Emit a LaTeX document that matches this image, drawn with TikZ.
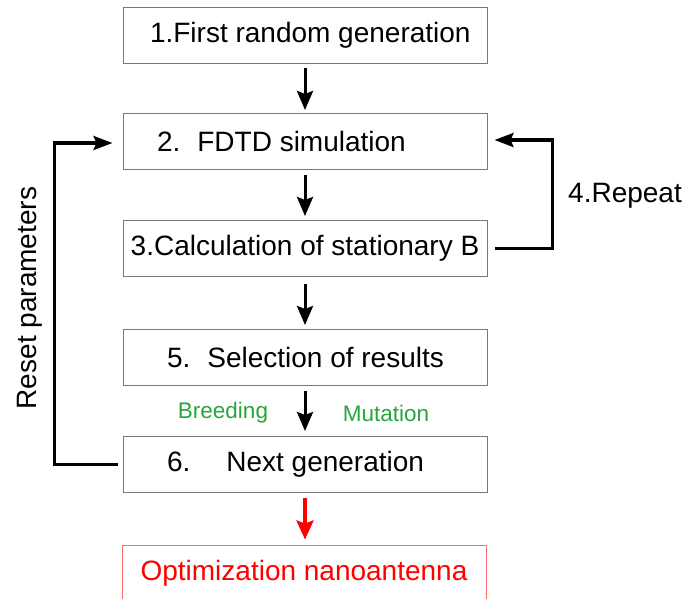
\documentclass[tikz,border=0pt]{standalone}
\usepackage{fontspec}
\setmainfont{Liberation Sans}
\usetikzlibrary{arrows.meta}
\definecolor{bxgray}{RGB}{120,120,120}
\definecolor{lbgreen}{RGB}{40,165,60}
\definecolor{optred}{RGB}{255,0,0}
\definecolor{optredline}{RGB}{250,110,110}
\begin{document}
\begin{tikzpicture}[x=1pt,y=-1pt,
  stepbox/.style={draw=bxgray,line width=1pt,rectangle,minimum width=364pt,minimum height=56pt,inner sep=0pt,font=\fontsize{28}{32}\selectfont},
  optbox/.style={stepbox,draw=optredline,text=optred},
  flow/.style={line width=3pt,-{Stealth[length=19pt,width=16pt,inset=3pt]}},
  redflow/.style={line width=3.4pt,draw=optred,-{Stealth[length=19pt,width=17pt,inset=3pt,fill=optred]}},
  loopline/.style={line width=3.2pt,-{Stealth[length=19pt,width=14pt,inset=3pt]}},
  lbl/.style={font=\fontsize{28}{32}\selectfont,inner sep=0pt},
  glbl/.style={font=\fontsize{22.5}{26}\selectfont,text=lbgreen,inner sep=0pt}]
\clip (0,0) rectangle (686,598);
\fill[white] (0,0) rectangle (686,598);

\node[stepbox] (b1) at (305,35) {\makebox[340pt][l]{\hspace*{15pt}1.First random generation}};
\node[stepbox] (b2) at (305,141.5) {\makebox[340pt][l]{\hspace*{22pt}2.\hspace{17pt}FDTD simulation}};
\node[stepbox] (b3) at (305,248.5) {3.Calculation of stationary B};
\node[stepbox] (b5) at (305,357.5) {\makebox[340pt][l]{\hspace*{32pt}5.\hspace{17pt}Selection of results}};
\node[stepbox] (b6) at (305,464.5) {\makebox[340pt][l]{\hspace*{32pt}6.\hspace{36pt}Next generation}};
\node[optbox] (b7) at (304,573) {Optimization nanoantenna};

\draw[flow] ([yshift=-4pt]b1.south) -- ([yshift=3pt]b2.north);
\draw[flow] ([yshift=-5pt]b2.south) -- ([yshift=4pt]b3.north);
\draw[flow] ([yshift=-7pt]b3.south) -- ([yshift=4pt]b5.north);
\draw[flow] ([yshift=-5pt]b5.south) -- ([yshift=5pt]b6.north);
\draw[redflow] ([yshift=-5pt]b6.south) -- ([yshift=5pt,xshift=1pt]b7.north);

\draw[loopline] ([xshift=-5pt]b6.west) -| ([xshift=-68pt,yshift=-1.5pt]b2.west) -- ([xshift=-10pt,yshift=-1.5pt]b2.west);
\draw[loopline] ([xshift=7pt]b3.east) -| ([xshift=65pt,yshift=1.5pt]b2.east) -- ([xshift=7pt,yshift=1.5pt]b2.east);

\node[lbl] (rep) at (625,196) {4.Repeat};
\node[lbl,rotate=90] (reset) at (30,298) {Reset parameters};
\node[glbl] (breed) at (223,413) {Breeding};
\node[glbl] (mut) at (386,413) {Mutation};
\end{tikzpicture}
\end{document}
